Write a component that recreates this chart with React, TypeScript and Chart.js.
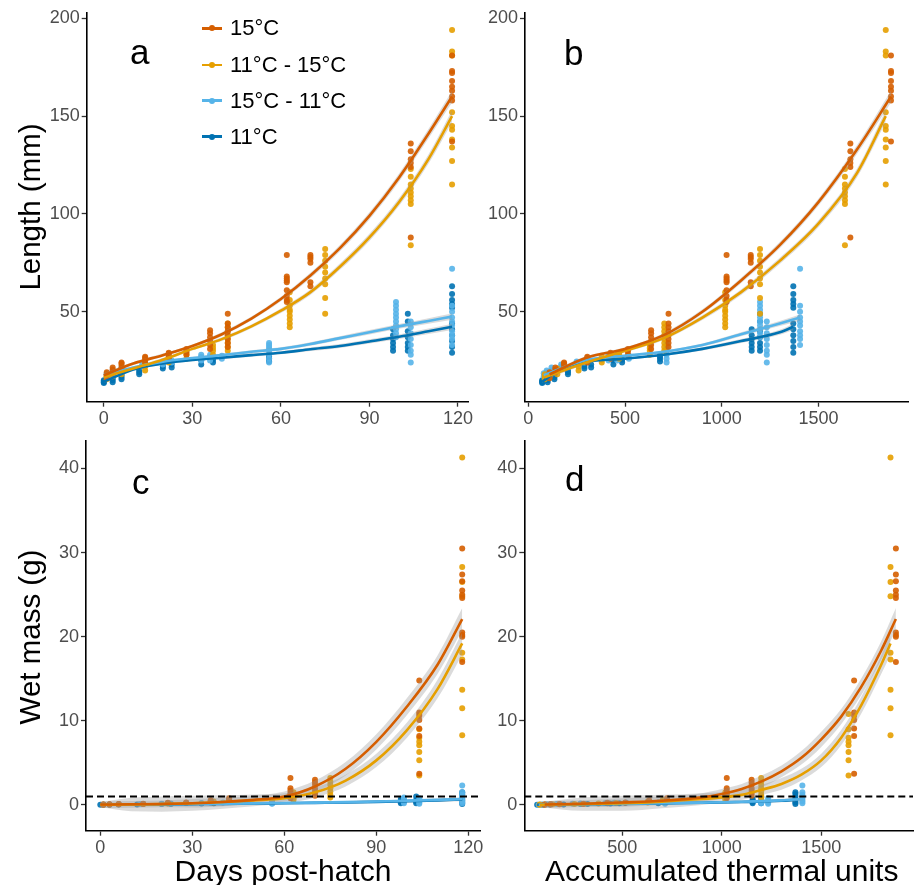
import React, { useEffect, useRef } from "react";
import { Chart, registerables } from "chart.js";

Chart.register(...registerables);

const FONT = "'Liberation Sans', Arial, Helvetica, sans-serif";
const PAGE_W = 917;
const PAGE_H = 885;
const YW = 40;
const XH = 30;

const RED = "#D55E00";
const ORANGE = "#E69F00";
const SKY = "#56B4E9";
const BLUE = "#0072B2";

// ---------- tick labels ----------
const DAY_TICKS = [0, 30, 60, 90, 120];
const ATU_TICKS = [0, 500, 1000, 1500];
const LEN_TICKS = [50, 100, 150, 200];
const MASS_TICKS = [0, 10, 20, 30, 40];

// ---------- series labels ----------
const LABELS = ["15°C", "11°C - 15°C", "15°C - 11°C", "11°C"];

// ---------- 15°C ----------
const DAYS_15 = [1, 3, 6, 14, 22, 28, 36, 42, 62, 70, 104, 118];
const ATU_15 = [110, 140, 185, 305, 425, 515, 635, 725, 1025, 1150, 1665, 1875];
const LEN_15 = [
  [16, 17.5, 19], [19, 20.5, 21.5], [21, 22.5, 24, 23.5], [24, 25.5, 27, 26.5],
  [26, 27.5, 29, 28.5], [28, 29.5, 31, 30.5], [31, 33, 35, 37, 39, 40.5],
  [32, 34, 36, 38, 40, 42, 44, 49], [79, 68, 67, 66, 65, 61, 58, 56, 55],
  [79, 78, 77, 75, 65, 63], [136, 132, 128, 126, 124, 88],
  [181, 173, 172, 168, 165, 163, 160, 158, 137],
];
const MASS_15 = [
  [0.03, 0.05], [0.05, 0.07], [0.08, 0.1], [0.12, 0.15], [0.2, 0.25], [0.25, 0.3],
  [0.35, 0.45, 0.55], [0.4, 0.5, 0.6, 0.8], [3.2, 2.0, 1.7, 1.4, 1.2, 1.0, 0.8],
  [3.0, 2.7, 2.4, 2.0, 1.7, 1.4, 1.1], [14.8, 11.0, 10.6, 10.1, 9.1, 8.2, 3.7],
  [30.5, 27.4, 26.6, 25.5, 25.0, 24.6, 20.5, 20.2, 20.0, 17.0],
];

// ---------- 11°C - 15°C ----------
const DAYS_1115 = [1, 3, 6, 14, 22, 28, 37, 42, 63, 75, 104, 118];
const ATU_1115 = [85, 110, 150, 260, 380, 470, 628, 703, 1018, 1198, 1637, 1848];
const LEN_1115 = [
  [15.5, 17, 18], [17, 18.5], [18, 20, 21], [20, 22, 23.5], [24, 25.5, 27],
  [26, 28, 29], [28, 30, 31.5, 33], [30, 32, 34, 36, 38, 40, 42, 44],
  [60, 56, 53, 51, 50, 48, 46, 44, 42], [82, 79, 76, 73, 70, 67, 64, 57, 49],
  [123, 119, 115, 113, 111, 109, 107, 105, 84],
  [194, 183, 181, 152, 145, 143, 138, 134, 127, 115],
];
const MASS_1115 = [
  [0.02, 0.04], [0.05], [0.07], [0.1], [0.18], [0.22], [0.3, 0.4], [0.4, 0.5, 0.6],
  [1.5, 1.2, 1.0, 0.8, 0.6], [3.2, 2.8, 2.4, 2.0, 1.6, 1.2, 0.9],
  [10.8, 9.0, 8.0, 7.5, 7.1, 6.3, 5.3, 3.5],
  [41.3, 28.3, 26.5, 24.8, 18.1, 17.3, 13.7, 11.5, 8.3],
];

// ---------- 15°C - 11°C ----------
const DAYS_1511 = [1, 3, 6, 13, 20, 23, 33, 36, 40, 56, 99, 104, 118];
const ATU_1511 = [80, 95, 120, 170, 250, 290, 415, 460, 520, 715, 1198, 1233, 1405];
const LEN_1511 = [
  [17, 18.5], [19, 20], [20, 21.5], [22, 23], [23, 24.5], [24, 25], [25, 26, 27, 28],
  [25, 27, 28], [26, 27.5], [24, 26, 28, 30, 31, 32, 33, 34],
  [55, 53, 51, 49, 47, 45, 43, 41, 39, 37], [45, 42, 39, 36, 33, 30, 28, 24],
  [72, 53, 50, 47, 45, 43, 40, 38, 36, 33],
];
const MASS_1511 = [
  [0.03], [0.05], [0.07], [0.1], [0.15], [0.17], [0.22], [0.25], [0.28],
  [0.15, 0.25, 0.3, 0.35], [0.9, 0.7, 0.5, 0.35, 0.2], [0.8, 0.5, 0.3, 0.15],
  [2.3, 1.5, 1.2, 1.0, 0.8, 0.6, 0.4, 0.2],
];

// ---------- 11°C ----------
const DAYS_11 = [0, 3, 6, 12, 20, 23, 33, 37, 56, 98, 103, 118];
const ATU_11 = [72, 100, 135, 205, 290, 325, 440, 485, 681, 1155, 1198, 1370];
const LEN_11 = [
  [13.5, 14, 15, 14.5], [14, 15, 16], [15.5, 16.5, 17.5], [18, 19, 20], [21, 22, 23],
  [21.5, 23], [23, 25, 26], [24, 25.5], [24.5, 26, 27, 28], [41, 38, 36, 34, 32, 30],
  [49, 45, 40, 37, 34, 32, 30], [63, 59, 56, 54, 52, 44, 41, 38, 35, 32, 29],
];
const MASS_11 = [
  [0.02], [0.03], [0.04], [0.06], [0.1], [0.12], [0.17], [0.2], [0.2, 0.3],
  [0.7, 0.5, 0.35, 0.2], [1.0, 0.6, 0.4, 0.2], [1.5, 1.3, 1.0, 0.7, 0.5, 0.3, 0.1],
];

// ---------- fitted curves vs days (panels a, c) ----------
const FIT_DAY = [0, 10, 20, 30, 40, 50, 60, 70, 80, 90, 100, 110, 118];
const FIT_LEN_15 = [17.5, 23.5, 27.8, 32.5, 38.5, 46.5, 56.5, 68.5, 82.5, 99, 118.5, 141, 160];
const FIT_LEN_1115 = [16.5, 21, 25.5, 31, 36, 42.5, 50.5, 60, 73, 88, 106, 128, 150];
const FIT_LEN_1511 = [17.5, 21.5, 24.5, 26.3, 27.8, 29.5, 31, 33.5, 36.5, 39.5, 42.5, 45.3, 47.5];
const FIT_LEN_11 = [14.2, 20.5, 23.5, 25.3, 26.5, 27.8, 29, 30.8, 32.5, 34.8, 37.2, 40, 42.3];
const BAND_LEN_WARM = [1.2, 0.8, 0.8, 0.8, 1, 1, 1.2, 1.4, 1.6, 1.8, 2, 2.4, 3];
const BAND_LEN_COOL = [0.8, 0.6, 0.6, 0.6, 0.7, 0.8, 0.8, 0.9, 1, 1.1, 1.2, 1.4, 1.6];

const FIT_MASS_15 = [0.05, 0.08, 0.12, 0.2, 0.35, 0.6, 1.0, 2.2, 4.3, 7.5, 11.7, 16.7, 22.1];
const FIT_MASS_1115 = [0.02, 0.05, 0.1, 0.2, 0.35, 0.55, 0.8, 1.5, 2.9, 5.3, 8.9, 13.8, 19.2];
const FIT_MASS_1511 = [0.03, 0.05, 0.08, 0.11, 0.15, 0.19, 0.23, 0.28, 0.34, 0.41, 0.5, 0.6, 0.7];
const FIT_MASS_11 = [0.02, 0.04, 0.07, 0.1, 0.13, 0.17, 0.2, 0.25, 0.3, 0.37, 0.45, 0.55, 0.65];
const BAND_MASS_15 = [0.4, 0.4, 0.4, 0.5, 0.5, 0.5, 0.6, 0.7, 0.8, 0.9, 1.0, 1.1, 1.3];
const BAND_MASS_1115 = [0.3, 0.8, 0.9, 0.9, 0.8, 0.7, 0.6, 0.6, 0.7, 0.8, 0.9, 1.1, 1.3];
const BAND_MASS_COOL = [0.1, 0.1, 0.1, 0.12, 0.12, 0.12, 0.12, 0.13, 0.14, 0.15, 0.16, 0.18, 0.2];

// ---------- fitted curves vs accumulated thermal units (panel b) ----------
const FIT_ATU_L_15 = [110, 300, 500, 700, 900, 1100, 1300, 1500, 1700, 1875];
const FIT_LEN_ATU_15 = [18, 26.5, 31, 38, 50, 66, 84, 106, 133, 160];
const FIT_ATU_L_1115 = [85, 300, 500, 700, 900, 1100, 1300, 1500, 1700, 1848];
const FIT_LEN_ATU_1115 = [16.5, 24, 30, 36.5, 47, 60, 76, 95, 121, 150];
const BAND_LEN_ATU_WARM = [1.2, 0.8, 0.8, 1, 1.2, 1.4, 1.6, 1.8, 2.2, 3];
const FIT_ATU_L_1511 = [80, 300, 500, 700, 900, 1100, 1300, 1405];
const FIT_LEN_ATU_1511 = [17.5, 25.3, 27.5, 29.5, 33, 38.5, 44, 47];
const BAND_LEN_ATU_1511 = [0.8, 0.6, 0.6, 0.7, 0.8, 1, 1.3, 1.6];
const FIT_ATU_L_11 = [72, 160, 300, 500, 700, 900, 1100, 1300, 1370];
const FIT_LEN_ATU_11 = [14.2, 20.2, 24.4, 26, 28, 31, 35, 39.5, 42.3];
const BAND_LEN_ATU_11 = [0.8, 0.6, 0.6, 0.6, 0.7, 0.8, 1, 1.3, 1.6];

// ---------- fitted curves of mass vs accumulated thermal units (panel d) ----------
const FIT_ATU_M_15 = [110, 300, 500, 700, 900, 1000, 1100, 1200, 1300, 1400, 1500, 1600, 1700, 1800, 1875];
const FIT_MASS_ATU_15 = [0.05, 0.15, 0.3, 0.5, 0.9, 1.3, 1.9, 2.8, 4.0, 5.6, 7.8, 10.5, 14.0, 18.3, 22.1];
const BAND_MASS_ATU_15 = [0.4, 0.4, 0.5, 0.5, 0.5, 0.6, 0.6, 0.7, 0.7, 0.8, 0.9, 0.9, 1.0, 1.1, 1.3];
const FIT_ATU_M_1115 = [85, 300, 500, 700, 900, 1000, 1100, 1200, 1300, 1400, 1500, 1600, 1700, 1800, 1848];
const FIT_MASS_ATU_1115 = [0.03, 0.1, 0.2, 0.4, 0.7, 0.9, 1.2, 1.8, 2.5, 3.6, 5.3, 8.0, 11.8, 16.6, 19.2];
const BAND_MASS_ATU_1115 = [0.3, 0.8, 0.9, 0.8, 0.7, 0.6, 0.6, 0.6, 0.7, 0.7, 0.8, 0.9, 1.0, 1.1, 1.3];
const FIT_ATU_M_1511 = [80, 300, 500, 700, 900, 1100, 1300, 1405];
const FIT_MASS_ATU_1511 = [0.03, 0.08, 0.14, 0.2, 0.28, 0.38, 0.55, 0.7];
const FIT_ATU_M_11 = [72, 300, 500, 700, 900, 1100, 1300, 1370];
const FIT_MASS_ATU_11 = [0.02, 0.08, 0.13, 0.19, 0.26, 0.35, 0.5, 0.62];
const BAND_MASS_ATU_COOL = [0.1, 0.1, 0.12, 0.12, 0.13, 0.15, 0.18, 0.2];

// ---------- threshold ----------
const THRESHOLD_MASS = 1;

type Fit = [number[], number[], number[]];
type Group = {
  label: string;
  color: string;
  days: number[];
  atu: number[];
  len: number[][];
  mass: number[][];
  fits: { lenDay: Fit; massDay: Fit; lenAtu: Fit; massAtu: Fit };
};

const GROUPS: Group[] = [
  {
    label: LABELS[0], color: RED, days: DAYS_15, atu: ATU_15, len: LEN_15, mass: MASS_15,
    fits: {
      lenDay: [FIT_DAY, FIT_LEN_15, BAND_LEN_WARM],
      massDay: [FIT_DAY, FIT_MASS_15, BAND_MASS_15],
      lenAtu: [FIT_ATU_L_15, FIT_LEN_ATU_15, BAND_LEN_ATU_WARM],
      massAtu: [FIT_ATU_M_15, FIT_MASS_ATU_15, BAND_MASS_ATU_15],
    },
  },
  {
    label: LABELS[1], color: ORANGE, days: DAYS_1115, atu: ATU_1115, len: LEN_1115, mass: MASS_1115,
    fits: {
      lenDay: [FIT_DAY, FIT_LEN_1115, BAND_LEN_WARM],
      massDay: [FIT_DAY, FIT_MASS_1115, BAND_MASS_1115],
      lenAtu: [FIT_ATU_L_1115, FIT_LEN_ATU_1115, BAND_LEN_ATU_WARM],
      massAtu: [FIT_ATU_M_1115, FIT_MASS_ATU_1115, BAND_MASS_ATU_1115],
    },
  },
  {
    label: LABELS[2], color: SKY, days: DAYS_1511, atu: ATU_1511, len: LEN_1511, mass: MASS_1511,
    fits: {
      lenDay: [FIT_DAY, FIT_LEN_1511, BAND_LEN_COOL],
      massDay: [FIT_DAY, FIT_MASS_1511, BAND_MASS_COOL],
      lenAtu: [FIT_ATU_L_1511, FIT_LEN_ATU_1511, BAND_LEN_ATU_1511],
      massAtu: [FIT_ATU_M_1511, FIT_MASS_ATU_1511, BAND_MASS_ATU_COOL],
    },
  },
  {
    label: LABELS[3], color: BLUE, days: DAYS_11, atu: ATU_11, len: LEN_11, mass: MASS_11,
    fits: {
      lenDay: [FIT_DAY, FIT_LEN_11, BAND_LEN_COOL],
      massDay: [FIT_DAY, FIT_MASS_11, BAND_MASS_COOL],
      lenAtu: [FIT_ATU_L_11, FIT_LEN_ATU_11, BAND_LEN_ATU_11],
      massAtu: [FIT_ATU_M_11, FIT_MASS_ATU_11, BAND_MASS_ATU_COOL],
    },
  },
];

type PanelDef = {
  key: string;
  L: number; T: number; R: number; B: number;
  xMin: number; xMax: number; yMin: number; yMax: number;
  xTicks: number[]; yTicks: number[];
  byAtu: boolean; mass: boolean;
};

const PANELS: PanelDef[] = [
  { key: "a", L: 86.7, T: 13.2, R: 468.3, B: 401.7, xMin: -5.8, xMax: 123.5, yMin: 4, yMax: 202.6, xTicks: DAY_TICKS, yTicks: LEN_TICKS, byAtu: false, mass: false },
  { key: "b", L: 525, T: 13.2, R: 908, B: 401.7, xMin: -17, xMax: 1963, yMin: 4, yMax: 202.6, xTicks: ATU_TICKS, yTicks: LEN_TICKS, byAtu: true, mass: false },
  { key: "c", L: 86, T: 440.7, R: 480, B: 830.7, xMin: -4.66, xMax: 123.8, yMin: -3.06, yMax: 43.3, xTicks: DAY_TICKS, yTicks: MASS_TICKS, byAtu: false, mass: true },
  { key: "d", L: 524.3, T: 440.7, R: 917, B: 830.7, xMin: 7.5, xMax: 1961, yMin: -3.06, yMax: 43.3, xTicks: ATU_TICKS, yTicks: MASS_TICKS, byAtu: true, mass: true },
];

function hexA(hex: string, a: number) {
  const n = parseInt(hex.slice(1), 16);
  return `rgba(${(n >> 16) & 255},${(n >> 8) & 255},${n & 255},${a})`;
}

function axis(min: number, max: number, ticks: number[], isX: boolean) {
  return {
    type: "linear",
    min,
    max,
    bounds: "data",
    afterBuildTicks: (s: any) => {
      s.ticks = ticks.filter((v) => v >= min && v <= max).map((v) => ({ value: v }));
    },
    afterFit: (s: any) => {
      if (isX) s.height = XH;
      else s.width = YW;
      s.paddingLeft = 0;
      s.paddingRight = 0;
      s.paddingTop = 0;
      s.paddingBottom = 0;
    },
    grid: {
      display: true,
      drawOnChartArea: false,
      drawTicks: true,
      tickLength: 5,
      tickColor: "#333333",
      tickWidth: 1.3,
    },
    border: { display: true, color: "#000000", width: 1.6 },
    ticks: {
      color: "#4D4D4D",
      font: { family: FONT, size: 18 },
      padding: 2,
      maxRotation: 0,
      minRotation: 0,
      autoSkip: false,
      callback: (v: any) => String(v),
    },
  };
}

function pickFit(g: Group, p: PanelDef): Fit {
  if (p.mass) return p.byAtu ? g.fits.massAtu : g.fits.massDay;
  return p.byAtu ? g.fits.lenAtu : g.fits.lenDay;
}

function buildConfig(p: PanelDef): any {
  const datasets: any[] = [];
  // raw observations
  GROUPS.forEach((g) => {
    const xs = p.byAtu ? g.atu : g.days;
    const cols = p.mass ? g.mass : g.len;
    const pts: { x: number; y: number }[] = [];
    cols.forEach((col, i) => col.forEach((v) => pts.push({ x: xs[i], y: v })));
    datasets.push({
      data: pts,
      showLine: false,
      pointRadius: 3,
      pointBorderWidth: 0,
      pointBackgroundColor: hexA(g.color, 0.9),
      pointBorderColor: hexA(g.color, 0.9),
      backgroundColor: hexA(g.color, 0.9),
      borderColor: g.color,
      order: 10,
    });
  });
  // confidence ribbons
  GROUPS.forEach((g) => {
    const [fx, fy, band] = pickFit(g, p);
    const lowerIdx = datasets.length;
    datasets.push({
      data: fx.map((x, i) => ({ x, y: fy[i] - band[i] })),
      borderWidth: 0,
      pointRadius: 0,
      fill: false,
      cubicInterpolationMode: "monotone",
      order: 5,
    });
    datasets.push({
      data: fx.map((x, i) => ({ x, y: fy[i] + band[i] })),
      borderWidth: 0,
      pointRadius: 0,
      fill: lowerIdx,
      backgroundColor: "rgba(153,153,153,0.35)",
      cubicInterpolationMode: "monotone",
      order: 5,
    });
  });
  // fitted lines
  GROUPS.forEach((g) => {
    const [fx, fy] = pickFit(g, p);
    datasets.push({
      data: fx.map((x, i) => ({ x, y: fy[i] })),
      borderColor: g.color,
      borderWidth: 2.6,
      pointRadius: 0,
      fill: false,
      cubicInterpolationMode: "monotone",
      order: 2,
    });
  });
  if (p.mass) {
    datasets.push({
      data: [
        { x: p.xMin, y: THRESHOLD_MASS },
        { x: p.xMax, y: THRESHOLD_MASS },
      ],
      borderColor: "#000000",
      borderWidth: 2,
      borderDash: [7, 4],
      pointRadius: 0,
      fill: false,
      order: 1,
    });
  }

  return {
    type: "line",
    data: { datasets },
    options: {
      animation: false,
      responsive: false,
      maintainAspectRatio: false,
      devicePixelRatio: 1,
      events: [],
      layout: {
        padding: {
          left: p.L - YW,
          top: p.T,
          right: PAGE_W - p.R,
          bottom: PAGE_H - p.B - XH,
        },
      },
      plugins: {
        legend: { display: false },
        tooltip: { enabled: false },
        title: { display: false },
      },
      scales: {
        x: axis(p.xMin, p.xMax, p.xTicks, true),
        y: axis(p.yMin, p.yMax, p.yTicks, false),
      },
    },
  };
}

function PanelCanvas({ p }: { p: PanelDef }) {
  const ref = useRef<HTMLCanvasElement | null>(null);
  useEffect(() => {
    if (!ref.current) return;
    const chart = new Chart(ref.current, buildConfig(p));
    return () => chart.destroy();
  }, [p]);
  return (
    <canvas
      ref={ref}
      width={PAGE_W}
      height={PAGE_H}
      style={{ position: "absolute", left: 0, top: 0, width: PAGE_W, height: PAGE_H }}
    />
  );
}

const LEGEND_ROWS_Y = [28.3, 65, 100.7, 136.7];
const LETTERS = [
  { t: "a", left: 130, top: 33.7 },
  { t: "b", left: 564, top: 35.4 },
  { t: "c", left: 132, top: 463.7 },
  { t: "d", left: 565, top: 461 },
];

export default function App() {
  const text = (extra: React.CSSProperties): React.CSSProperties => ({
    position: "absolute",
    fontFamily: FONT,
    color: "#000",
    whiteSpace: "nowrap",
    ...extra,
  });
  return (
    <div
      style={{
        position: "absolute",
        left: 0,
        top: 0,
        width: PAGE_W,
        height: PAGE_H,
        background: "#fff",
        overflow: "hidden",
      }}
    >
      {PANELS.map((p) => (
        <PanelCanvas key={p.key} p={p} />
      ))}

      {LETTERS.map((l) => (
        <div key={l.t} style={text({ left: l.left, top: l.top, fontSize: 35, lineHeight: "35px" })}>
          {l.t}
        </div>
      ))}

      {GROUPS.map((g, i) => {
        const cy = LEGEND_ROWS_Y[i];
        return (
          <React.Fragment key={g.label}>
            <div style={{ position: "absolute", left: 201.7, top: cy - 1.4, width: 20, height: 2.8, background: g.color }} />
            <div
              style={{
                position: "absolute",
                left: 211.7 - 3,
                top: cy - 3,
                width: 6,
                height: 6,
                borderRadius: "50%",
                background: g.color,
              }}
            />
            <div style={text({ left: 230, top: cy - 12, height: 24, lineHeight: "24px", fontSize: 22 })}>{g.label}</div>
          </React.Fragment>
        );
      })}

      <div
        style={text({
          left: 30,
          top: 206.7,
          fontSize: 29.5,
          lineHeight: "32px",
          transform: "translate(-50%, -50%) rotate(-90deg)",
        })}
      >
        Length (mm)
      </div>
      <div
        style={text({
          left: 30,
          top: 636.7,
          fontSize: 29.5,
          lineHeight: "32px",
          transform: "translate(-50%, -50%) rotate(-90deg)",
        })}
      >
        Wet mass (g)
      </div>
      <div style={text({ left: 283, top: 856, fontSize: 30, lineHeight: "30px", transform: "translateX(-50%)" })}>
        Days post-hatch
      </div>
      <div style={text({ left: 721.7, top: 856, fontSize: 30, lineHeight: "30px", transform: "translateX(-50%)" })}>
        Accumulated thermal units
      </div>
    </div>
  );
}
